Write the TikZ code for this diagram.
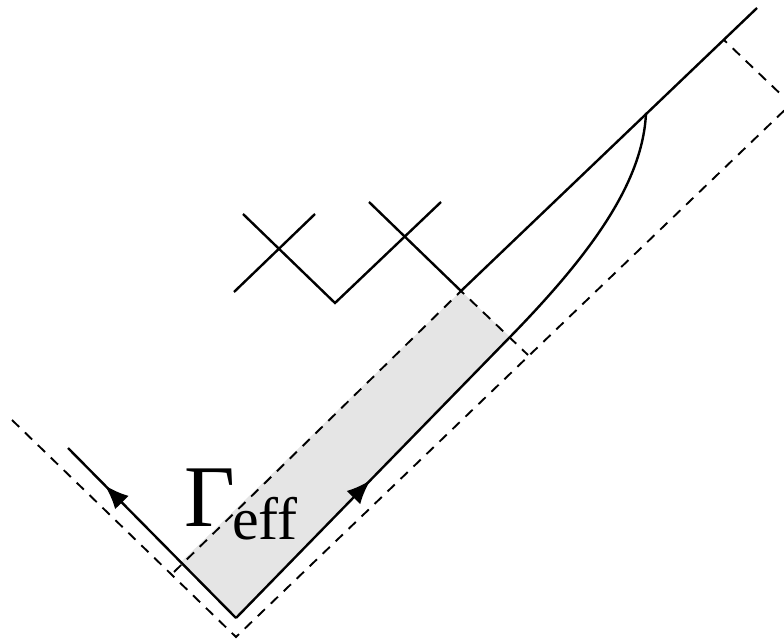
\documentclass[tikz,border=0pt]{standalone}
\usepackage{fontspec}
\setmainfont{Liberation Serif}
\usetikzlibrary{arrows.meta,decorations.markings}
\tikzset{
  solidline/.style={line width=2.4pt, line cap=butt, line join=miter},
  dashline/.style={line width=1.9pt, dash pattern=on 10pt off 8pt},
  midarrow/.style={postaction={decorate}, decoration={markings,
    mark=at position #1 with {\arrow{Latex[length=24pt,width=19pt]}}}},
  shade/.style={fill=black!10, draw=none}
}
\begin{document}
\begin{tikzpicture}[x=1pt,y=-1pt]
\useasboundingbox (0,0) rectangle (784,642);
\clip (0,0) rectangle (784,642);
% key points
\coordinate (B) at (236,618);
\coordinate (R) at (510,337);
\coordinate (T) at (461,291);
\coordinate (L) at (180,563);
\coordinate (LA) at (68,448);
\coordinate (TOP) at (757,8);
\coordinate (CS) at (646,113);
\coordinate (TD) at (724,40);
\coordinate (CR) at (791,104);
\coordinate (OB) at (236,637);
\coordinate (OL) at (12,420);
\coordinate (DL) at (174,572);
\coordinate (DR) at (528,355);
% shaded strip
\fill[shade] (B) -- (R) -- (T) -- (L) -- cycle;
% dashed lines
\draw[dashline] (DL) -- (T) -- (DR);
\draw[dashline] (OL) -- (OB) -- (CR) -- (TD);
% solid V with arrows
\draw[solidline, midarrow=0.78] (B) -- (LA);
\draw[solidline, midarrow=0.49] (B) -- (R);
% curve
\draw[solidline] (R) .. controls (595,250) and (643,180) .. (CS);
% top line and zigzag
\draw[solidline] (369,202) -- (T) -- (TOP);
\draw[solidline] (243,214) -- (335,303) -- (441,202);
\draw[solidline] (234,292) -- (315,214);
% label
\node[anchor=base west, inner sep=0pt] (lab) at (184,526)
  {\fontsize{88}{96}\selectfont Γ\kern-3pt\raisebox{-13pt}{\fontsize{60}{64}\selectfont eff}};
\end{tikzpicture}
\end{document}
